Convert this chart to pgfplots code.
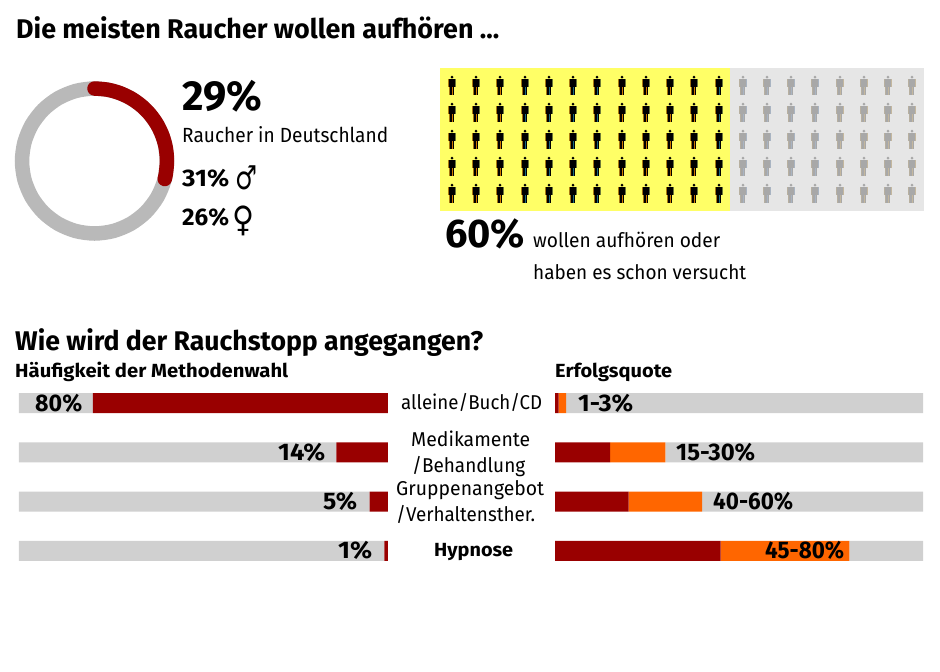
\documentclass[border=0pt]{standalone}
\usepackage{graphicx}
\usepackage{pgfplots}
\pgfplotsset{compat=1.18}
\usepgfplotslibrary{polar}
\usepackage{fontspec}
\setmainfont{Fira Sans}
\newfontfamily\sym{DejaVu Sans}
\definecolor{dred}{HTML}{990000}
\definecolor{dor}{HTML}{FF6600}
\definecolor{bgr}{HTML}{D0D0D0}
\definecolor{ring}{HTML}{B9B9B9}
\definecolor{yel}{HTML}{FFFF66}
\definecolor{lgr}{HTML}{E6E6E6}
\definecolor{pgr}{HTML}{A8A8A8}
% x, y (baseline), width, size, text
\newcommand{\T}[5]{\node[anchor=base west,inner sep=0pt] at (#1pt,-#2pt) {\resizebox{#3pt}{\height}{\fontsize{#4}{#4}\selectfont #5}};}
% person pictogram: #1 name, #2 body, #3 left fringe, #4 right fringe, #5 leg stripe
\newcommand{\person}[5]{\pgfdeclareplotmark{#1}{%
  \pgfsetfillcolor{#2}%
  \pgfpathcircle{\pgfqpoint{0pt}{8.3pt}}{1.5pt}\pgfusepathqfill
  \pgfsetfillcolor{#3}%
  \pgfpathrectangle{\pgfqpoint{-4pt}{-1pt}}{\pgfqpoint{1.6pt}{7.2pt}}\pgfusepathqfill
  \pgfpathrectangle{\pgfqpoint{-2.8pt}{-9.5pt}}{\pgfqpoint{1pt}{8.5pt}}\pgfusepathqfill
  \pgfsetfillcolor{#4}%
  \pgfpathrectangle{\pgfqpoint{2.4pt}{-1pt}}{\pgfqpoint{1.6pt}{7.2pt}}\pgfusepathqfill
  \pgfsetfillcolor{#2}%
  \pgfpathrectangle{\pgfqpoint{-2.8pt}{-1pt}}{\pgfqpoint{5.4pt}{7.2pt}}\pgfusepathqfill
  \pgfpathrectangle{\pgfqpoint{-1.9pt}{-9.5pt}}{\pgfqpoint{4pt}{8.6pt}}\pgfusepathqfill
  \pgfsetfillcolor{#5}%
  \pgfpathrectangle{\pgfqpoint{-0.4pt}{-9.5pt}}{\pgfqpoint{1.3pt}{8pt}}\pgfusepathqfill
}}
\definecolor{fa}{HTML}{A87810}
\definecolor{fb}{HTML}{6E7A38}
\definecolor{so}{HTML}{D07800}
\definecolor{st}{HTML}{1A6A80}
\definecolor{ga}{HTML}{B8B0A0}
\definecolor{gb}{HTML}{A9B4C2}
\definecolor{gt}{HTML}{C4B79E}
\person{pa}{black}{fa}{fb}{so}
\person{pb}{black}{fa}{fb}{st}
\person{pc}{pgr}{ga}{gb}{gb}
\person{pd}{pgr}{ga}{gt}{gt}
\pgfplotstableread{
x y
452 85.5
476 85.5
500 85.5
622 85.5
646 85.5
670 85.5
694 85.5
452 112.5
476 112.5
500 112.5
622 112.5
646 112.5
670 112.5
694 112.5
452 139.5
476 139.5
500 139.5
622 139.5
646 139.5
670 139.5
694 139.5
452 166.5
476 166.5
500 166.5
622 166.5
646 166.5
670 166.5
694 166.5
452 193.5
476 193.5
500 193.5
622 193.5
646 193.5
670 193.5
694 193.5
}\quittersa
\pgfplotstableread{
x y
525 85.5
549 85.5
573 85.5
597 85.5
719 85.5
525 112.5
549 112.5
573 112.5
597 112.5
719 112.5
525 139.5
549 139.5
573 139.5
597 139.5
719 139.5
525 166.5
549 166.5
573 166.5
597 166.5
719 166.5
525 193.5
549 193.5
573 193.5
597 193.5
719 193.5
}\quittersb
\pgfplotstableread{
x y
743 85.5
767 85.5
791 85.5
815 85.5
743 112.5
767 112.5
791 112.5
815 112.5
743 139.5
767 139.5
791 139.5
815 139.5
743 166.5
767 166.5
791 166.5
815 166.5
743 193.5
767 193.5
791 193.5
815 193.5
}\othersa
\pgfplotstableread{
x y
840 85.5
864 85.5
888 85.5
912 85.5
840 112.5
864 112.5
888 112.5
912 112.5
840 139.5
864 139.5
888 139.5
912 139.5
840 166.5
864 166.5
888 166.5
912 166.5
840 193.5
864 193.5
888 193.5
912 193.5
}\othersb
\pgfplotsset{bars/.style={
  scale only axis, hide axis, xbar stacked, bar width=20pt, width=368pt,
  xmin=0, xmax=100, y dir=reverse, clip=false,
  ymin=-0.203,ymax=3.203,height=168pt,y=49.3pt}}
\begin{document}
\begin{tikzpicture}[x=1pt,y=1pt]
\path[use as bounding box] (0,0) rectangle (940pt,-672pt);
% donut
\begin{polaraxis}[at={(94.5pt,-161pt)},anchor=center,scale only axis,width=145pt,height=145pt,
  hide axis,xmin=0,xmax=360,ymin=0,ymax=1,clip=false]
\addplot[ring,line width=14.5pt,smooth] coordinates {(0,1)(15,1)(30,1)(45,1)(60,1)(75,1)(90,1)(105,1)(120,1)(135,1)(150,1)(165,1)(180,1)(195,1)(210,1)(225,1)(240,1)(255,1)(270,1)(285,1)(300,1)(315,1)(330,1)(345,1)(360,1)};
\addplot[dred,line width=14.5pt,smooth,line cap=round] coordinates {(90,1)(80,1)(70,1)(60,1)(50,1)(40,1)(30,1)(20,1)(10,1)(0,1)(-10,1)(-14.4,1)};
\end{polaraxis}
% pictogram
\begin{axis}[at={(440pt,-68pt)},anchor=north west,scale only axis,width=484pt,height=143pt,
  hide axis,xmin=440,xmax=924,ymin=68,ymax=211,y dir=reverse,clip=false]
\addplot[draw=none,fill=yel] coordinates {(440,68)(730,68)(730,211)(440,211)} --cycle;
\addplot[draw=none,fill=lgr] coordinates {(730,68)(924,68)(924,211)(730,211)} --cycle;
\addplot[only marks,mark=pa] table {\quittersa};
\addplot[only marks,mark=pb] table {\quittersb};
\addplot[only marks,mark=pc] table {\othersa};
\addplot[only marks,mark=pd] table {\othersb};
\end{axis}
% left bars
\begin{axis}[bars,at={(19pt,-393pt)},anchor=north west,x dir=reverse,width=369pt]
\addplot[fill=dred,draw=none] coordinates {(80,0)(14,1)(5,2)(1,3)};
\addplot[fill=bgr,draw=none] coordinates {(20,0)(86,1)(95,2)(99,3)};
\end{axis}
% right bars
\begin{axis}[bars,at={(555pt,-393pt)},anchor=north west]
\addplot[fill=dred,draw=none] coordinates {(1,0)(15,1)(20,2)(45,3)};
\addplot[fill=dor,draw=none] coordinates {(2,0)(15,1)(20,2)(35,3)};
\addplot[fill=bgr,draw=none] coordinates {(97,0)(70,1)(60,2)(20,3)};
\end{axis}
% text
\T{16}{38}{483}{27}{\bfseries Die meisten Raucher wollen aufhören ...}
\T{15}{350}{468}{27}{\bfseries Wie wird der Rauchstopp angegangen?}
\T{182}{110}{80}{42}{\bfseries 29\%}
\T{182}{142}{206}{20.5}{Raucher in Deutschland}
\T{182}{186.5}{47}{24}{\bfseries 31\%}
\T{182}{225}{47}{24}{\bfseries 26\%}
\T{235}{189}{22}{33}{\sym ♂}
\T{232}{231}{22}{35}{\sym ♀}
\T{445}{247}{80}{40}{\bfseries 60\%}
\T{533}{247}{187}{20}{wollen aufhören oder}
\T{533}{279}{213}{20}{haben es schon versucht}
\T{15}{377}{273}{19}{\bfseries Häufigkeit der Methodenwahl}
\T{555}{377}{117}{19}{\bfseries Erfolgsquote}
\T{35}{411}{47}{24}{\bfseries 80\%}
\T{278}{460}{47}{24}{\bfseries 14\%}
\T{323}{509}{34}{24}{\bfseries 5\%}
\T{338}{558}{34}{24}{\bfseries 1\%}
\T{578}{411}{55}{24}{\bfseries 1-3\%}
\T{676}{460}{79}{24}{\bfseries 15-30\%}
\T{713}{509}{80}{24}{\bfseries 40-60\%}
\T{765}{558}{79}{24}{\bfseries 45-80\%}
\T{401}{409}{141}{20}{alleine/Buch/CD}
\T{411}{446}{119}{20}{Medikamente}
\T{412}{472}{113}{20}{/Behandlung}
\T{396}{495}{148}{20}{Gruppenangebot}
\T{396}{521}{139}{20}{/Verhaltensther.}
\T{434}{556}{79}{19}{\bfseries Hypnose}
\end{tikzpicture}
\end{document}
